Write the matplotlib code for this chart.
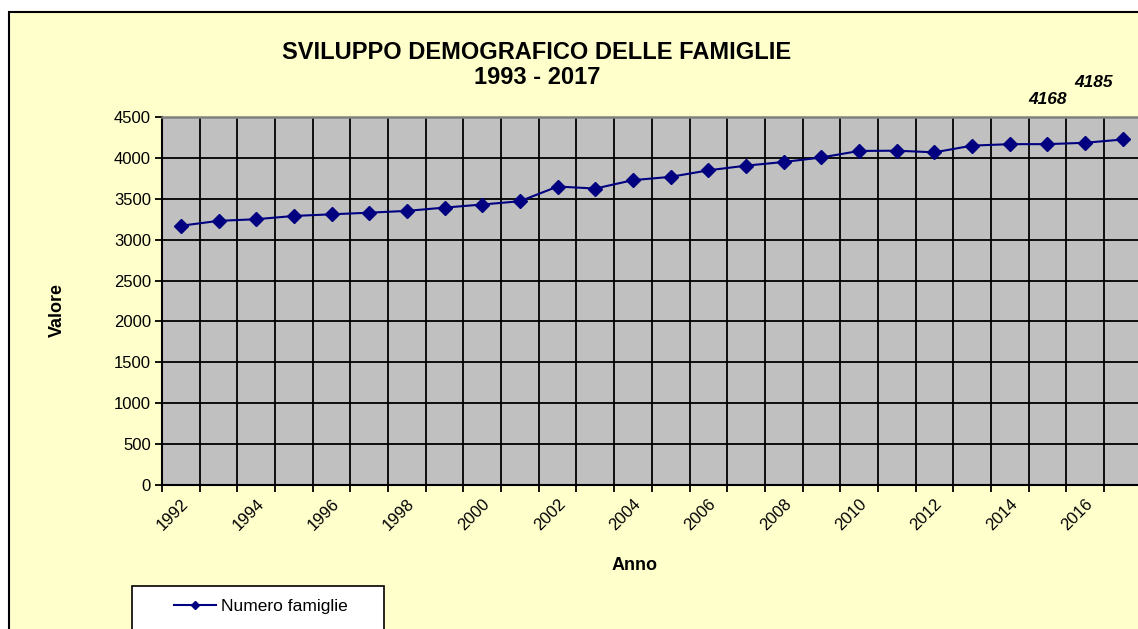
import matplotlib
matplotlib.use('Agg')
import matplotlib.pyplot as plt
from matplotlib.patches import Rectangle

plt.rcParams['font.family'] = ['Liberation Sans', 'DejaVu Sans']

anni = [str(a) for a in range(1992, 2018)]
famiglie = [3170, 3230, 3250, 3290, 3310, 3330, 3352, 3392, 3430, 3470,
            3650, 3625, 3728, 3768, 3848, 3905, 3950, 4005, 4085, 4088,
            4068, 4150, 4168, 4168, 4185, 4225]
etichette = {23: '4168', 24: '4185'}

W, H = 1138, 629
fig = plt.figure(figsize=(W / 100, H / 100), dpi=100, facecolor='white')

def px(x, y):
    return x / W, 1 - y / H

# cornice del grafico (gialla)
x0, y0 = px(9, 12)
fig.patches.append(Rectangle((x0, -0.1), 1.2, y0 + 0.1, transform=fig.transFigure,
                             facecolor='#FFFFCC', edgecolor='black', lw=1.5, zorder=-5))

l, t = px(162, 117)
r, b = px(1141.7, 485)
ax = fig.add_axes([l, b, r - l, t - b])
ax.set_zorder(2)
ax.set_facecolor('#C0C0C0')

x = list(range(len(anni)))
ax.plot(x, famiglie, color='#000080', lw=1.5, marker='D', markersize=7,
        label='Numero famiglie', zorder=3)

for i, txt in etichette.items():
    dx, dy = (0, 45) if i == 23 else (8, 60)
    ax.annotate(txt, (x[i], famiglie[i]), xytext=(dx, dy), textcoords='offset pixels',
                ha='center', va='center', fontsize=12.5, fontweight='bold',
                fontstyle='italic', annotation_clip=False)

ax.set_xlim(-0.5, len(anni) - 0.5)
ax.set_ylim(0, 4500)
ax.set_yticks(range(0, 4501, 500))
ax.set_xticks(x[::2])
ax.set_xticklabels(anni[::2], rotation=45, ha='right', rotation_mode='anchor')
ax.set_xticks([i - 0.5 for i in range(len(anni) + 1)], minor=True)
ax.tick_params(axis='x', which='major', length=0, pad=8, labelsize=12)
ax.tick_params(axis='x', which='minor', length=5, width=1.3, direction='out')
ax.tick_params(axis='y', length=5, width=1.3, labelsize=12, pad=3)
ax.grid(True, axis='y', which='major', color='black', lw=1.3)
ax.grid(True, axis='x', which='minor', color='black', lw=1.3)
ax.set_axisbelow(True)
for s in ['left', 'bottom']:
    ax.spines[s].set_linewidth(1.5)
ax.spines['top'].set_color('#808080')
ax.spines['top'].set_linewidth(1.8)
ax.spines['right'].set_visible(False)

tx, ty = px(537, 65)
fig.text(tx, ty, 'SVILUPPO DEMOGRAFICO DELLE FAMIGLIE\n1993 - 2017', ha='center', va='center',
         fontsize=17, fontweight='bold', linespacing=1.1)
vx, vy = px(57, 310)
fig.text(vx, vy, 'Valore', rotation=90, ha='center', va='center', fontsize=13, fontweight='bold')
axx, axy = px(635, 566)
fig.text(axx, axy, 'Anno', ha='center', va='center', fontsize=13, fontweight='bold')

# box della legenda
lx, ly = px(131.7, 640)
lx2, ly2 = px(384, 585.7)
fig.patches.append(Rectangle((lx, ly), lx2 - lx, ly2 - ly, transform=fig.transFigure,
                             facecolor='white', edgecolor='black', lw=1.2, zorder=1))
cx, cy = px(261, 606)
h, lab = ax.get_legend_handles_labels()
leg = fig.legend(h, lab, loc='center', bbox_to_anchor=(cx, cy), frameon=False,
                 fontsize=12.5, handlelength=2.4, markerscale=0.6, handletextpad=0.3)

fig.savefig('out.png', dpi=100)
